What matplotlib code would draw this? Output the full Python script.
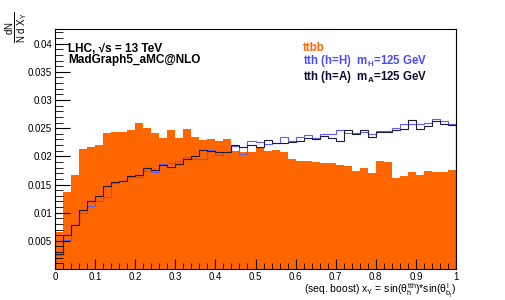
import matplotlib.pyplot as plt
import numpy as np
from matplotlib.ticker import MultipleLocator

# ---------------------------------------------------------------------------
# Données (50 classes de largeur 0.02 sur [0, 1])
# ---------------------------------------------------------------------------
BORDS = np.linspace(0.0, 1.0, 51)

TTBB = [
    0.0065, 0.0137, 0.0167, 0.0213, 0.0217, 0.0220, 0.0241, 0.0243, 0.0243, 0.0247,
    0.0260, 0.0251, 0.0241, 0.0232, 0.0246, 0.0233, 0.0249, 0.0235, 0.0229, 0.0230,
    0.0227, 0.0230, 0.0210, 0.0208, 0.0207, 0.0216, 0.0209, 0.0211, 0.0207, 0.0195,
    0.0192, 0.0192, 0.0190, 0.0188, 0.0189, 0.0185, 0.0183, 0.0174, 0.0180, 0.0171,
    0.0191, 0.0190, 0.0162, 0.0165, 0.0173, 0.0167, 0.0174, 0.0172, 0.0172, 0.0175,
]

TTH_H = [
    0.0024, 0.0051, 0.0079, 0.0100, 0.0112, 0.0120, 0.0127, 0.0153, 0.0156, 0.0164,
    0.0163, 0.0174, 0.0173, 0.0187, 0.0189, 0.0191, 0.0199, 0.0195, 0.0196, 0.0211,
    0.0203, 0.0208, 0.0218, 0.0204, 0.0227, 0.0226, 0.0222, 0.0224, 0.0234, 0.0227,
    0.0234, 0.0237, 0.0233, 0.0240, 0.0239, 0.0246, 0.0242, 0.0242, 0.0243, 0.0240,
    0.0245, 0.0245, 0.0251, 0.0257, 0.0257, 0.0257, 0.0259, 0.0266, 0.0262, 0.0257,
]

TTH_A = [
    0.0027, 0.0061, 0.0079, 0.0105, 0.0121, 0.0130, 0.0148, 0.0154, 0.0156, 0.0165,
    0.0167, 0.0179, 0.0176, 0.0184, 0.0181, 0.0186, 0.0196, 0.0201, 0.0211, 0.0209,
    0.0207, 0.0208, 0.0221, 0.0216, 0.0221, 0.0217, 0.0229, 0.0224, 0.0224, 0.0226,
    0.0227, 0.0233, 0.0230, 0.0236, 0.0232, 0.0227, 0.0247, 0.0239, 0.0247, 0.0235,
    0.0244, 0.0244, 0.0247, 0.0249, 0.0264, 0.0249, 0.0253, 0.0263, 0.0258, 0.0256,
]

ORANGE = "#ff6600"
BLEU = "#5c5cff"
SOMBRE = "#1c1c3a"

plt.rcParams["font.family"] = ["Liberation Sans", "DejaVu Sans"]
plt.rcParams["mathtext.fontset"] = "custom"
plt.rcParams["mathtext.rm"] = "Liberation Sans"
plt.rcParams["mathtext.it"] = "Liberation Sans"
plt.rcParams["mathtext.bf"] = "Liberation Sans:bold"

fig = plt.figure(figsize=(5.06, 3.00), dpi=100)
ax = fig.add_axes([0.1087, 0.1033, 0.7925, 0.80])

ax.stairs(TTBB, BORDS, fill=True, color=ORANGE, linewidth=0)
ax.stairs(TTH_H, BORDS, color=BLEU, linewidth=0.8)
ax.stairs(TTH_A, BORDS, color=SOMBRE, linewidth=0.8)

ax.set_xlim(0, 1)
ax.set_ylim(0, 0.0426)

# Graduations style ROOT : vers l'intérieur, seulement à gauche et en bas
ax.xaxis.set_major_locator(MultipleLocator(0.1))
ax.xaxis.set_minor_locator(MultipleLocator(0.02))
ax.yaxis.set_major_locator(MultipleLocator(0.005))
ax.yaxis.set_minor_locator(MultipleLocator(0.001))
ax.tick_params(axis="both", which="both", direction="in", top=False, right=False,
               labelsize=7, color="black")
ax.tick_params(axis="y", which="major", length=11, pad=2)
ax.tick_params(axis="y", which="minor", length=6)
ax.tick_params(axis="x", which="major", length=7, pad=2)
ax.tick_params(axis="x", which="minor", length=4)

ax.set_yticks([0.005, 0.01, 0.015, 0.02, 0.025, 0.03, 0.035, 0.04])
ax.set_yticklabels(["0.005", "0.01", "0.015", "0.02", "0.025", "0.03", "0.035", "0.04"])
ax.set_xticks(np.round(np.arange(0, 1.01, 0.1), 1))
ax.set_xticklabels(["0", "0.1", "0.2", "0.3", "0.4", "0.5", "0.6", "0.7", "0.8", "0.9", "1"])

for cote in ax.spines.values():
    cote.set_linewidth(0.8)

# Titres d'axes
fig.text(0.9012, 0.022,
         r"(seq. boost) $x_{Y}$ = sin($\theta_{h}^{tth}$)*sin($\theta_{b_{l}}^{l}$)",
         ha="right", va="baseline", fontsize=7.5)
fig.text(0.034, 0.96, r"$\frac{dN}{N\ d\ X_{Y}}$", rotation=90,
         ha="center", va="top", fontsize=10)

# Textes dans le cadre
fig.text(68 / 506, 1 - 52 / 300, "LHC, \u221as = 13 TeV", fontsize=8.5,
         fontweight="bold", ha="left", va="baseline")
fig.text(68 / 506, 1 - 63 / 300, "MadGraph5_aMC@NLO", fontsize=8.5,
         fontweight="bold", ha="left", va="baseline")

fig.text(303 / 506, 1 - 51 / 300, "ttbb", fontsize=8.3, fontweight="bold",
         color=ORANGE, ha="left", va="baseline")
fig.text(303 / 506, 1 - 64 / 300, r"tth (h=H)  m$_{\mathbf{H}}$=125 GeV",
         fontsize=8.3, fontweight="bold", color="#4a4aff", ha="left", va="baseline")
fig.text(303 / 506, 1 - 80 / 300, r"tth (h=A)  m$_{\mathbf{A}}$=125 GeV",
         fontsize=8.3, fontweight="bold", color="#0c0c30", ha="left", va="baseline")

fig.savefig("out.png", dpi=100)
